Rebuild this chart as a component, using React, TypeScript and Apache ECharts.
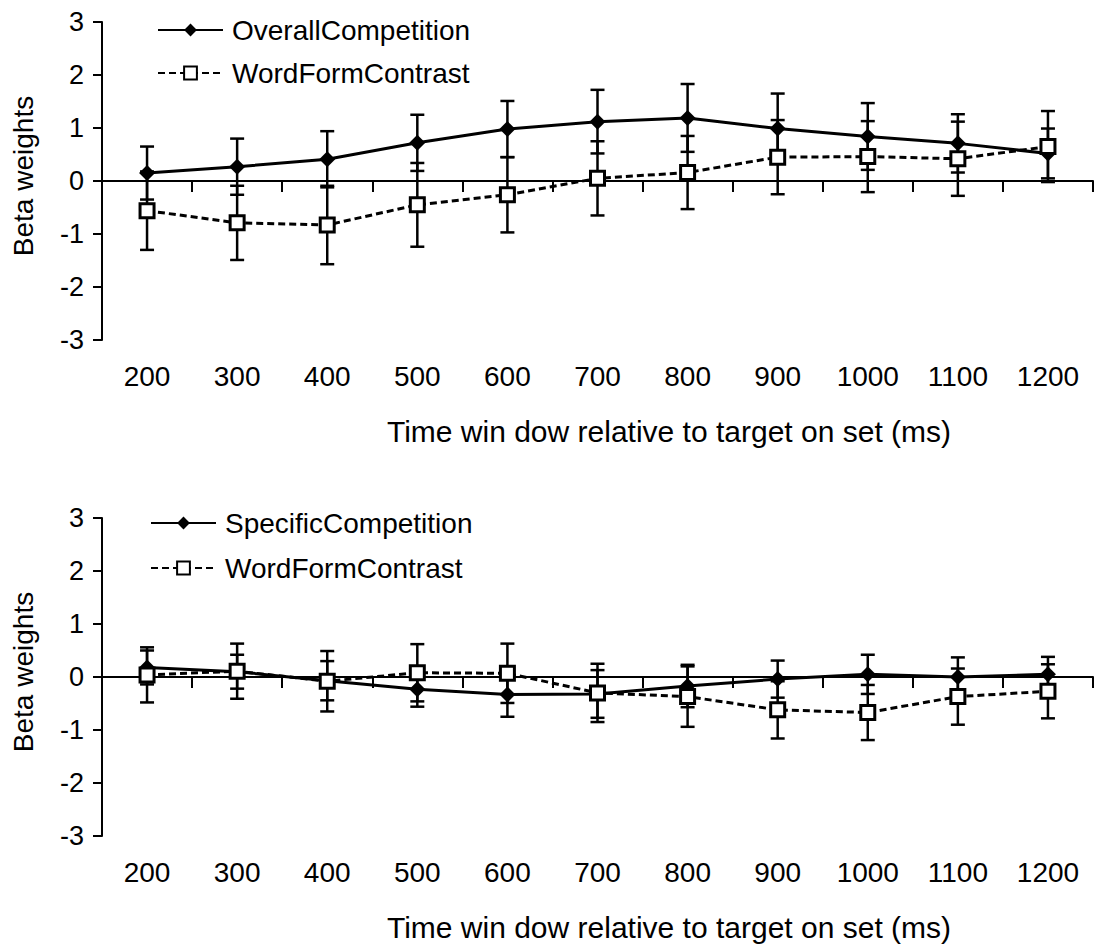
import React, { useEffect, useRef } from "react";
import * as echarts from "echarts";

const categories = ["200", "300", "400", "500", "600", "700", "800", "900", "1000", "1100", "1200"];
const yTicks = [-3, -2, -1, 0, 1, 2, 3];

// Top panel
const overallCompetition = [0.15, 0.27, 0.41, 0.72, 0.98, 1.12, 1.19, 0.99, 0.84, 0.71, 0.52];
const overallCompetitionErr = [0.5, 0.53, 0.53, 0.53, 0.53, 0.6, 0.64, 0.66, 0.63, 0.55, 0.47];
const wordFormTop = [-0.56, -0.79, -0.83, -0.45, -0.26, 0.05, 0.16, 0.45, 0.46, 0.42, 0.65];
const wordFormTopErr = [0.74, 0.7, 0.74, 0.79, 0.71, 0.7, 0.69, 0.7, 0.67, 0.7, 0.67];

// Bottom panel
const specificCompetition = [0.18, 0.1, -0.07, -0.23, -0.33, -0.32, -0.17, -0.04, 0.05, 0.0, 0.05];
const specificCompetitionErr = [0.32, 0.32, 0.37, 0.33, 0.42, 0.45, 0.4, 0.35, 0.37, 0.37, 0.33];
const wordFormBottom = [0.04, 0.11, -0.08, 0.08, 0.07, -0.3, -0.37, -0.62, -0.67, -0.37, -0.27];
const wordFormBottomErr = [0.52, 0.52, 0.57, 0.54, 0.56, 0.55, 0.57, 0.54, 0.52, 0.53, 0.51];

const xTitle = "Time win dow relative to target on set (ms)";
const yTitle = "Beta weights";

const FONT = "'Liberation Sans', Arial, sans-serif";

function errData(vals: number[], errs: number[]) {
  return vals.map((v, i) => [i, v - errs[i], v + errs[i]]);
}

function errorSeries(vals: number[], errs: number[], xi: number, yi: number) {
  return {
    type: "custom",
    xAxisIndex: xi,
    yAxisIndex: yi,
    z: 1,
    silent: true,
    encode: { x: 0, y: [1, 2] },
    data: errData(vals, errs),
    renderItem: (params: any, api: any) => {
      const x = api.value(0);
      const lo = api.value(1);
      const hi = api.value(2);
      const p1 = api.coord([x, hi]);
      const p2 = api.coord([x, lo]);
      const hw = 7;
      const style = { stroke: "#000", lineWidth: 2.5 };
      return {
        type: "group",
        children: [
          { type: "line", shape: { x1: p1[0], y1: p1[1], x2: p2[0], y2: p2[1] }, style },
          { type: "line", shape: { x1: p1[0] - hw, y1: p1[1], x2: p1[0] + hw, y2: p1[1] }, style },
          { type: "line", shape: { x1: p2[0] - hw, y1: p2[1], x2: p2[0] + hw, y2: p2[1] }, style },
        ],
      };
    },
  };
}

function solidSeries(name: string, data: number[], xi: number, yi: number) {
  return {
    name,
    type: "line",
    xAxisIndex: xi,
    yAxisIndex: yi,
    data,
    symbol: "diamond",
    symbolSize: 16,
    z: 3,
    lineStyle: { color: "#000", width: 3 },
    itemStyle: { color: "#000" },
  };
}

function dashedSeries(name: string, data: number[], xi: number, yi: number) {
  return {
    name,
    type: "line",
    xAxisIndex: xi,
    yAxisIndex: yi,
    data,
    symbol: "rect",
    symbolSize: 14,
    z: 4,
    lineStyle: { color: "#000", width: 3, type: [7, 4] },
    itemStyle: { color: "#fff", borderColor: "#000", borderWidth: 3 },
  };
}

function zeroAxis(gi: number) {
  return {
    type: "category",
    gridIndex: gi,
    data: categories,
    position: "bottom",
    boundaryGap: true,
    axisLine: { show: true, onZero: true, lineStyle: { color: "#000", width: 2 } },
    axisTick: { show: true, interval: 0, length: 11, lineStyle: { color: "#000", width: 2 } },
    axisLabel: { show: false },
    splitLine: { show: false },
  };
}

function labelAxis(gi: number) {
  return {
    type: "category",
    gridIndex: gi,
    data: categories,
    position: "bottom",
    boundaryGap: true,
    axisLine: { show: false, onZero: false },
    axisTick: { show: false },
    axisLabel: { show: true, interval: 0, color: "#000", fontSize: 28, fontFamily: FONT, margin: 22 },
    splitLine: { show: false },
  };
}

function valueAxis(gi: number) {
  return {
    type: "value",
    gridIndex: gi,
    min: yTicks[0],
    max: yTicks[yTicks.length - 1],
    interval: 1,
    axisLine: { show: true, lineStyle: { color: "#000", width: 2 } },
    axisTick: { show: true, length: 9, lineStyle: { color: "#000", width: 2 } },
    axisLabel: { color: "#000", fontSize: 27, fontFamily: FONT, margin: 18 },
    splitLine: { show: false },
  };
}

function legend(left: number, top: number, gap: number, names: string[]) {
  return {
    orient: "vertical",
    left,
    top,
    padding: 0,
    itemGap: gap,
    itemWidth: 65,
    itemHeight: 16,
    selectedMode: false,
    data: names,
    textStyle: { color: "#000", fontSize: 28, fontFamily: FONT, lineHeight: 30, padding: [0, 0, 0, 4] },
  };
}

export default function App() {
  const ref = useRef<HTMLDivElement>(null);
  useEffect(() => {
    if (!ref.current) return;
    const chart = echarts.init(ref.current, null, { renderer: "svg" });
    const option: any = {
      animation: false,
      backgroundColor: "#fff",
      grid: [
        { left: 102, width: 991, top: 22, height: 318 },
        { left: 102, width: 991, top: 518, height: 318 },
      ],
      xAxis: [zeroAxis(0), labelAxis(0), zeroAxis(1), labelAxis(1)],
      yAxis: [valueAxis(0), valueAxis(1)],
      legend: [
        legend(157, 15, 13, ["OverallCompetition", "WordFormContrast"]),
        legend(150, 508, 15, ["SpecificCompetition", "WordFormContrast"]),
      ],
      graphic: [
        { type: "text", x: 669, y: 431, style: { text: xTitle, fill: "#000", fontSize: 30, fontFamily: FONT, textAlign: "center", textVerticalAlign: "middle" } },
        { type: "text", x: 669, y: 927, style: { text: xTitle, fill: "#000", fontSize: 30, fontFamily: FONT, textAlign: "center", textVerticalAlign: "middle" } },
        { type: "text", x: 23, y: 176, rotation: Math.PI / 2, style: { text: yTitle, fill: "#000", fontSize: 28, fontFamily: FONT, textAlign: "center", textVerticalAlign: "middle" } },
        { type: "text", x: 23, y: 672, rotation: Math.PI / 2, style: { text: yTitle, fill: "#000", fontSize: 28, fontFamily: FONT, textAlign: "center", textVerticalAlign: "middle" } },
      ],
      series: [
        errorSeries(overallCompetition, overallCompetitionErr, 0, 0),
        errorSeries(wordFormTop, wordFormTopErr, 0, 0),
        solidSeries("OverallCompetition", overallCompetition, 0, 0),
        dashedSeries("WordFormContrast", wordFormTop, 0, 0),
        errorSeries(specificCompetition, specificCompetitionErr, 2, 1),
        errorSeries(wordFormBottom, wordFormBottomErr, 2, 1),
        solidSeries("SpecificCompetition", specificCompetition, 2, 1),
        dashedSeries("WordFormContrast", wordFormBottom, 2, 1),
      ],
    };
    chart.setOption(option);
    return () => chart.dispose();
  }, []);
  return (
    <div
      ref={ref}
      style={{ position: "absolute", left: 0, top: 0, width: 1095, height: 945, background: "#fff" }}
    />
  );
}
